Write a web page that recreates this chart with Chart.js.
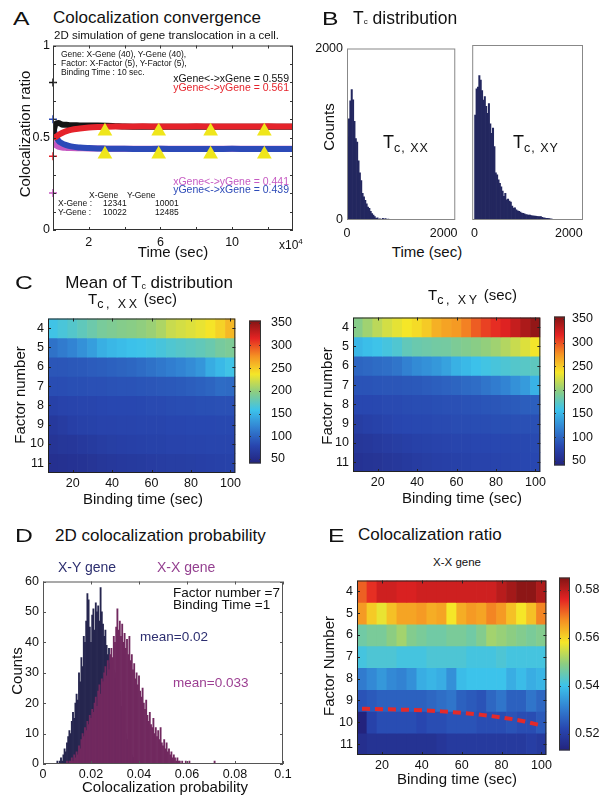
<!DOCTYPE html>
<html>
<head>
<meta charset="utf-8">
<script src="https://cdn.jsdelivr.net/npm/chart.js@4.4.0/dist/chart.umd.min.js"></script>
<style>
  body { margin: 0; background: #fff; }
  #fig { position: relative; width: 602px; height: 798px; overflow: hidden; font-family: "Liberation Sans", Arial, sans-serif; color: #111; }
  #fig canvas { position: absolute; }
  .t { position: absolute; white-space: nowrap; }
  .sub { position: relative; }
</style>
</head>
<body>
<div id="fig"></div>
<script>
// ---------- Panel A: colocalization convergence ----------
const convTime = [0, 0.15, 0.3, 0.5, 0.75, 1, 1.5, 2, 2.5, 3, 3.5, 4, 5, 6, 7, 8, 9, 10, 11, 12, 13, 13.4];
const ratioXX = [0.52, 0.575, 0.58, 0.572, 0.57, 0.568, 0.567, 0.566, 0.566, 0.565, 0.563, 0.561, 0.560, 0.560, 0.559, 0.559, 0.560, 0.559, 0.559, 0.559, 0.559, 0.559];
const ratioYY = [0.50, 0.505, 0.515, 0.526, 0.536, 0.543, 0.550, 0.555, 0.558, 0.560, 0.561, 0.561, 0.562, 0.561, 0.561, 0.562, 0.561, 0.561, 0.561, 0.562, 0.561, 0.561];
const ratioXY = [0.47, 0.46, 0.452, 0.447, 0.445, 0.444, 0.443, 0.442, 0.442, 0.441, 0.441, 0.441, 0.441, 0.441, 0.441, 0.441, 0.441, 0.441, 0.441, 0.441, 0.441, 0.441];
const ratioYX = [0.56, 0.51, 0.485, 0.47, 0.46, 0.453, 0.447, 0.444, 0.442, 0.441, 0.440, 0.440, 0.439, 0.440, 0.439, 0.439, 0.439, 0.440, 0.439, 0.439, 0.439, 0.439];
const startRatios = [0.8, 0.6, 0.4, 0.2];
const markTimes = [2.9, 5.9, 8.8, 11.8];
const markHigh = [0.535, 0.535, 0.535, 0.535];
const markLow = [0.41, 0.41, 0.41, 0.41];
const convXTicks = [2, 4, 6, 8, 10, 12];
const convXLabels = [2, 6, 10];
const convYTicks = [0, 0.1, 0.2, 0.3, 0.4, 0.5, 0.6, 0.7, 0.8, 0.9, 1];
const convYLabels = [0, 0.5, 1];

// ---------- Panel B: Tc histograms ----------
const tcBinXX = 28;
const tcBinXY = 29;
const tcCountsXX = [970, 1180, 1390, 1520, 1400, 1150, 950, 910, 690, 550, 460, 310, 270, 230, 190, 150, 135, 100, 76, 57,
  40, 19, 25, 10, 15, 8, 20, 12, 18, 6, 10, 4, 8, 3, 5, 0, 4, 2, 0, 0, 3, 0, 0, 5, 0, 0, 0, 0, 0, 0, 4, 0];
const tcCountsXY = [1200, 1500, 1520, 1650, 1600, 1480, 1370, 1410, 1300, 1220, 1330, 1100, 990, 1050, 840, 540, 515, 460, 420, 380,
  330, 270, 305, 230, 240, 215, 205, 160, 135, 140, 115, 105, 100, 90, 80, 76, 70, 62, 60, 55,
  57, 50, 48, 45, 45, 42, 40, 38, 38, 30, 25, 22, 20, 19, 15, 12, 11, 8, 5, 0,
  0, 0, 0, 5, 0, 0, 0, 5, 0, 0, 0, 5, 0, 0, 5];
const tcTicks = [0, 2000];
const tcCountTicks = [0, 2000];

// ---------- Panels C and E: heat maps ----------
const bindTimes = [10, 15, 20, 25, 30, 35, 40, 45, 50, 55, 60, 65, 70, 75, 80, 85, 90, 95, 100];
const factorRows = [4, 5, 6, 7, 8, 9, 10, 11];
const bindTicks = [20, 40, 60, 80, 100];
const tcMeanXX = [
  [160, 165, 170, 176, 182, 188, 191, 194, 196, 199, 203, 210, 220, 224, 228, 232, 238, 246, 258],
  [108, 114, 120, 128, 136, 146, 151, 154, 157, 159, 161, 164, 168, 171, 174, 177, 181, 187, 190],
  [90, 90, 91, 92, 94, 95, 97, 99, 101, 104, 108, 112, 116, 120, 125, 131, 144, 152, 160],
  [84, 84, 85, 85, 86, 86, 87, 88, 88, 89, 90, 91, 92, 93, 95, 97, 100, 104, 103],
  [74, 76, 77, 78, 78, 79, 80, 80, 80, 81, 82, 82, 83, 84, 84, 85, 85, 86, 86],
  [65, 68, 72, 74, 75, 76, 76, 77, 77, 78, 78, 78, 79, 79, 80, 80, 80, 81, 81],
  [60, 62, 63, 65, 67, 69, 71, 72, 73, 74, 75, 75, 76, 76, 77, 77, 78, 78, 78],
  [55, 56, 57, 58, 60, 62, 64, 65, 66, 67, 68, 69, 70, 70, 71, 72, 73, 74, 75]
];
const tcMeanXY = [
  [195, 205, 215, 224, 231, 237, 242, 250, 262, 268, 272, 282, 295, 305, 312, 318, 328, 338, 348],
  [150, 155, 159, 163, 168, 177, 181, 183, 185, 186, 190, 193, 196, 200, 205, 212, 220, 228, 236],
  [100, 102, 104, 106, 110, 118, 124, 128, 132, 138, 147, 152, 157, 161, 164, 167, 170, 172, 175],
  [88, 88, 89, 90, 90, 91, 92, 94, 96, 98, 100, 103, 105, 110, 115, 120, 128, 134, 148],
  [80, 80, 81, 82, 82, 83, 84, 84, 85, 86, 86, 87, 88, 89, 90, 92, 93, 95, 96],
  [70, 73, 75, 77, 79, 80, 81, 81, 82, 82, 83, 83, 84, 84, 85, 85, 86, 86, 86],
  [62, 64, 66, 68, 70, 72, 74, 75, 76, 77, 78, 78, 79, 79, 80, 80, 81, 81, 82],
  [57, 59, 60, 62, 64, 66, 68, 70, 72, 73, 74, 75, 76, 76, 77, 78, 79, 80, 80]
];
const tcClim = [40, 355];
const tcBarTicks = [50, 100, 150, 200, 250, 300, 350];
const colocXX = [
  [0.571, 0.575, 0.578, 0.578, 0.577, 0.577, 0.578, 0.578, 0.578, 0.578, 0.578, 0.578, 0.578, 0.578, 0.580, 0.582, 0.584, 0.584, 0.581],
  [0.566, 0.561, 0.557, 0.562, 0.565, 0.565, 0.566, 0.564, 0.565, 0.558, 0.564, 0.566, 0.565, 0.568, 0.566, 0.562, 0.558, 0.562, 0.568],
  [0.546, 0.547, 0.547, 0.549, 0.551, 0.548, 0.547, 0.546, 0.546, 0.547, 0.547, 0.546, 0.548, 0.551, 0.550, 0.549, 0.548, 0.547, 0.548],
  [0.541, 0.542, 0.542, 0.542, 0.541, 0.541, 0.541, 0.542, 0.542, 0.542, 0.542, 0.541, 0.541, 0.541, 0.542, 0.541, 0.541, 0.541, 0.541],
  [0.530, 0.532, 0.534, 0.532, 0.531, 0.533, 0.537, 0.538, 0.537, 0.533, 0.539, 0.540, 0.540, 0.540, 0.540, 0.537, 0.539, 0.537, 0.538],
  [0.524, 0.525, 0.526, 0.526, 0.526, 0.526, 0.526, 0.527, 0.528, 0.529, 0.526, 0.525, 0.524, 0.527, 0.529, 0.526, 0.526, 0.529, 0.527],
  [0.513, 0.521, 0.523, 0.523, 0.523, 0.523, 0.522, 0.523, 0.523, 0.524, 0.524, 0.524, 0.523, 0.523, 0.523, 0.524, 0.523, 0.523, 0.525],
  [0.516, 0.517, 0.517, 0.517, 0.517, 0.517, 0.517, 0.517, 0.518, 0.519, 0.519, 0.519, 0.519, 0.519, 0.519, 0.519, 0.519, 0.520, 0.519]
];
const colocClim = [0.513, 0.585];
const colocBarTicks = [0.52, 0.54, 0.56, 0.58];
const dashTimes = [10, 20, 30, 40, 50, 60, 70, 80, 90, 100];
const dashFactor = [9.38, 9.40, 9.42, 9.45, 9.50, 9.57, 9.66, 9.78, 9.93, 10.15];

// ---------- Panel D: colocalization probability ----------
const probBin = 0.0005;
const probStartXY = 0.006;
const probStartXX = 0.010;
const probCountsXY = [1, 0, 1, 2, 1, 3, 5, 4, 7, 9, 11, 10, 14, 17, 15, 20, 23, 21, 30, 27,
  35, 32, 42, 40, 47, 56, 54, 45, 40, 49, 51, 44, 53, 50, 52, 47, 58, 50, 46, 42,
  44, 39, 36, 38, 33, 30, 34, 31, 28, 30, 25, 22, 24, 19, 16, 14, 12, 10, 8, 6,
  5, 4, 3, 2, 2, 1, 1, 0, 1];
const probCountsXX = [1, 0, 1, 1, 2, 1, 3, 2, 4, 3, 6, 5, 8, 10, 9, 12, 11, 14, 13, 16,
  15, 18, 17, 20, 22, 19, 24, 26, 23, 28, 27, 30, 32, 29, 34, 31, 36, 38, 35, 42,
  40, 45, 51, 44, 47, 42, 46, 40, 43, 38, 41, 36, 42, 34, 36, 31, 33, 28, 30, 26,
  29, 24, 22, 25, 20, 18, 21, 16, 14, 17, 13, 12, 15, 10, 12, 9, 11, 8, 12, 7,
  6, 8, 5, 7, 4, 5, 3, 4, 2, 3, 2, 1, 2, 1, 1, 0, 1, 0, 0, 1,
  0, 0, 1, 0, 0, 0, 0, 0, 0, 0, 0, 0, 0, 0, 0, 0, 0, 0, 0, 0,
  0, 0, 0, 1];
const probTicks = [0, 0.02, 0.04, 0.06, 0.08, 0.1];
const probCountTicks = [0, 10, 20, 30, 40, 50, 60];

// ---------- colour map (jet-like, as printed) ----------
const cmapStops = [[0, [35, 35, 125]], [0.125, [40, 70, 175]], [0.25, [50, 130, 210]], [0.375, [60, 195, 235]],
  [0.5, [140, 205, 130]], [0.625, [245, 230, 40]], [0.75, [245, 145, 35]], [0.875, [228, 35, 35]], [1, [130, 20, 20]]];

function cmap(t) {
  t = Math.max(0, Math.min(1, t));
  for (let i = 1; i < cmapStops.length; i++) {
    const [t1, c1] = cmapStops[i];
    if (t <= t1) {
      const [t0, c0] = cmapStops[i - 1];
      const f = (t - t0) / (t1 - t0);
      return 'rgb(' + c0.map((v, k) => Math.round(v + (c1[k] - v) * f)).join(',') + ')';
    }
  }
  return 'rgb(130,20,20)';
}

function barGradient(chart) {
  const a = chart.chartArea;
  if (!a) return cmap(0.5);
  const g = chart.ctx.createLinearGradient(0, a.bottom, 0, a.top);
  cmapStops.forEach(([t, c]) => g.addColorStop(t, 'rgb(' + c.join(',') + ')'));
  return g;
}

// box with inward ticks, drawn over the data
const framePlugin = {
  id: 'frame',
  afterDatasetsDraw(chart, args, o) {
    if (!o || !o.color) return;
    const { ctx, chartArea: a, scales } = chart;
    ctx.save();
    ctx.strokeStyle = o.color;
    ctx.lineWidth = 1;
    ctx.strokeRect(a.left + 0.5, a.top + 0.5, a.width - 1, a.height - 1);
    const len = o.tick || 0;
    ctx.beginPath();
    if (len && o.x !== false) {
      for (const t of scales.x.ticks) {
        const p = Math.round(scales.x.getPixelForValue(t.value)) + 0.5;
        ctx.moveTo(p, a.bottom); ctx.lineTo(p, a.bottom - len);
        ctx.moveTo(p, a.top); ctx.lineTo(p, a.top + len);
      }
    }
    if (len && o.y !== false) {
      for (const t of scales.y.ticks) {
        const p = Math.round(scales.y.getPixelForValue(t.value)) + 0.5;
        ctx.moveTo(a.left, p); ctx.lineTo(a.left + len, p);
        ctx.moveTo(a.right, p); ctx.lineTo(a.right - len, p);
      }
    }
    ctx.stroke();
    ctx.restore();
  }
};
Chart.register(framePlugin);
Chart.defaults.font.family = '"Liberation Sans", Arial, sans-serif';
Chart.defaults.font.size = 12.5;
Chart.defaults.color = '#111';

const fig = document.getElementById('fig');

function canvasAt(box, m) {
  const c = document.createElement('canvas');
  c.width = box.w + m.l + m.r;
  c.height = box.h + m.t + m.b;
  c.style.left = (box.x - m.l) + 'px';
  c.style.top = (box.y - m.t) + 'px';
  c.style.width = c.width + 'px';
  c.style.height = c.height + 'px';
  fig.appendChild(c);
  return c;
}

function baseOptions(pad, frame, scales) {
  return {
    responsive: false, animation: false, devicePixelRatio: 1, events: [],
    layout: { padding: pad, autoPadding: false },
    plugins: { legend: { display: false }, tooltip: { enabled: false }, frame: frame },
    scales: scales
  };
}
// usual layout: y axis on the left fills m.l, x axis below fills m.b
const padLB = m => ({ left: 0, right: m.r, top: m.t, bottom: 0 });

// each scale gets exactly the room of its canvas margin
function axis(o, size) {
  return Object.assign({ grid: { display: false, drawTicks: false }, border: { display: false },
    afterFit: s => { if (s.isHorizontal()) s.height = size; else s.width = size; } }, o);
}
function fixTicks(list) { return s => { s.ticks = list.map(v => ({ value: v })); }; }
const pts = (xs, ys) => xs.map((x, i) => ({ x: x, y: ys[i] }));
const lineSet = (ys, color) => ({ data: pts(convTime, ys), showLine: true, borderColor: color, borderWidth: 6,
  pointRadius: 0, cubicInterpolationMode: 'monotone' });

// ---------- A ----------
const boxA = { x: 53, y: 43, w: 240, h: 187 }, mA = { l: 45, r: 8, t: 8, b: 22 };
new Chart(canvasAt(boxA, mA), {
  type: 'scatter',
  data: { datasets: [
    { data: startRatios.map(v => ({ x: 0, y: v })), pointStyle: 'cross', pointRadius: 4, borderWidth: 1.5,
      borderColor: ['#141414', '#2c4ab8', '#e5232b', '#c65ac2'], clip: false },
    { data: pts(markTimes, markHigh), pointStyle: 'triangle', pointRadius: 8.5, backgroundColor: '#efe61b', borderWidth: 0 },
    { data: pts(markTimes, markLow), pointStyle: 'triangle', pointRadius: 8.5, backgroundColor: '#efe61b', borderWidth: 0 },
    lineSet(ratioYY, '#e5232b'),
    lineSet(ratioXX, '#141414'),
    lineSet(ratioYX, '#2c4ab8'),
    lineSet(ratioXY, '#c65ac2')
  ] },
  options: baseOptions(padLB(mA), { color: '#333', tick: 3 }, {
    x: axis({ type: 'linear', min: 0, max: 13.4, afterBuildTicks: fixTicks(convXTicks),
      ticks: { autoSkip: false, maxRotation: 0, padding: 5, callback: v => convXLabels.includes(v) ? String(v) : '' } }, mA.b),
    y: axis({ type: 'linear', min: 0, max: 1, afterBuildTicks: fixTicks(convYTicks),
      ticks: { autoSkip: false, padding: 3, callback: v => convYLabels.includes(v) ? String(v) : '' } }, mA.l)
  })
});

// ---------- B ----------
function tcHist(box, m, counts, bin, xmin, xmax, showY) {
  new Chart(canvasAt(box, m), {
    type: 'bar',
    data: { datasets: [{ data: counts.map((c, i) => ({ x: (i + 0.5) * bin, y: c })), backgroundColor: '#23275f',
      barPercentage: 1, categoryPercentage: 1, borderWidth: 0 }] },
    options: baseOptions(padLB(m), { color: '#888' }, {
      x: axis({ type: 'linear', offset: false, min: xmin, max: xmax, afterBuildTicks: fixTicks(tcTicks),
        ticks: { autoSkip: false, maxRotation: 0, padding: 6, callback: v => String(v) } }, m.b),
      y: axis({ type: 'linear', min: 0, max: 2000, afterBuildTicks: fixTicks(tcCountTicks),
        ticks: { display: showY, autoSkip: false, padding: 4, callback: v => String(v) } }, m.l)
    })
  });
}
tcHist({ x: 347, y: 45, w: 113, h: 175 }, { l: 40, r: 4, t: 8, b: 20 }, tcCountsXX, tcBinXX, 0, 2240, true);
tcHist({ x: 469, y: 45, w: 114, h: 175 }, { l: 4, r: 15, t: 8, b: 20 }, tcCountsXY, tcBinXY, -50, 2300, false);

// ---------- heat maps ----------
function heatMap(box, m, values, clim, extra) {
  const rows = factorRows.map((r, i) => ({
    type: 'bar',
    data: bindTimes.map(t => ({ x: t, y: [r - 0.5, r + 0.5] })),
    backgroundColor: values[i].map(v => cmap((v - clim[0]) / (clim[1] - clim[0]))),
    grouped: false, barPercentage: 1, categoryPercentage: 1, borderWidth: 0
  }));
  new Chart(canvasAt(box, m), {
    type: 'bar',
    data: { datasets: (extra || []).concat(rows) },
    options: baseOptions(padLB(m), { color: '#222', tick: 3 }, {
      x: axis({ type: 'linear', offset: false, min: 7.5, max: 102.5, afterBuildTicks: fixTicks(bindTicks),
        ticks: { autoSkip: false, maxRotation: 0, padding: 3, callback: v => String(v) } }, m.b),
      y: axis({ type: 'linear', reverse: true, min: 3.5, max: 11.5, afterBuildTicks: fixTicks(factorRows),
        ticks: { autoSkip: false, padding: 4, callback: v => String(v) } }, m.l)
    })
  });
}
function colorBar(box, m, clim, ticks, fmt, pad) {
  new Chart(canvasAt(box, m), {
    type: 'bar',
    data: { labels: [''], datasets: [{ data: [clim], backgroundColor: c => barGradient(c.chart),
      barPercentage: 1, categoryPercentage: 1, borderWidth: 0 }] },
    options: baseOptions({ left: m.l, right: 0, top: m.t, bottom: m.b }, { color: '#333', tick: 2, x: false }, {
      x: { display: false },
      y: axis({ type: 'linear', position: 'right', min: clim[0], max: clim[1], afterBuildTicks: fixTicks(ticks),
        ticks: { autoSkip: false, padding: pad, callback: fmt } }, m.r)
    })
  });
}

heatMap({ x: 48, y: 311, w: 190, h: 162 }, { l: 30, r: 6, t: 4, b: 22 }, tcMeanXX, tcClim);
colorBar({ x: 249, y: 311, w: 12, h: 162 }, { l: 2, r: 36, t: 8, b: 8 }, tcClim, tcBarTicks, v => String(v), 10);
heatMap({ x: 353, y: 310, w: 190, h: 162 }, { l: 30, r: 6, t: 4, b: 22 }, tcMeanXY, tcClim);
colorBar({ x: 554, y: 310, w: 11, h: 162 }, { l: 2, r: 36, t: 8, b: 8 }, tcClim, tcBarTicks, v => String(v), 7);

heatMap({ x: 357, y: 573, w: 192, h: 182 }, { l: 30, r: 6, t: 4, b: 22 }, colocXX, colocClim, [
  { type: 'line', data: pts(dashTimes, dashFactor), borderColor: '#e42a2a', borderWidth: 4, borderDash: [8, 5],
    pointRadius: 0, cubicInterpolationMode: 'monotone' }
]);
colorBar({ x: 559, y: 573, w: 11, h: 182 }, { l: 2, r: 31, t: 8, b: 8 }, colocClim, colocBarTicks, v => v.toFixed(2), 5);

// ---------- D ----------
const probX = (start, n) => Array.from({ length: n }, (_, i) => +(start + i * probBin).toFixed(4));
const boxD = { x: 43, y: 578, w: 240, h: 186 }, mD = { l: 35, r: 15, t: 8, b: 22 };
new Chart(canvasAt(boxD, mD), {
  type: 'bar',
  data: { datasets: [
    { data: pts(probX(probStartXX, probCountsXX.length), probCountsXX), backgroundColor: '#71295f',
      grouped: false, barPercentage: 1, categoryPercentage: 1, borderWidth: 0 },
    { data: pts(probX(probStartXY, probCountsXY.length), probCountsXY), backgroundColor: '#26264f',
      grouped: false, barPercentage: 1, categoryPercentage: 1, borderWidth: 0 }
  ] },
  options: baseOptions(padLB(mD), { color: '#555', tick: 3 }, {
    x: axis({ type: 'linear', offset: false, min: 0, max: 0.1, afterBuildTicks: fixTicks(probTicks),
      ticks: { autoSkip: false, maxRotation: 0, padding: 3, callback: v => String(v) } }, mD.b),
    y: axis({ type: 'linear', min: 0, max: 60, afterBuildTicks: fixTicks(probCountTicks),
      ticks: { autoSkip: false, padding: 4, callback: v => String(v) } }, mD.l)
  })
});

// ---------- text ----------
function txt(html, x, base, size, o) {
  o = o || {};
  const d = document.createElement('div');
  d.className = 't';
  d.innerHTML = html;
  d.style.fontSize = size + 'px';
  d.style.lineHeight = size + 'px';
  d.style.top = (base - 0.8465 * size) + 'px';
  if (o.color) d.style.color = o.color;
  if (o.align === 'center') { d.style.left = x + 'px'; d.style.transform = 'translateX(-50%)'; }
  else if (o.align === 'right') d.style.right = (602 - x) + 'px';
  else d.style.left = x + 'px';
  if (o.sx) { d.style.transform = 'scaleX(' + o.sx + ')'; d.style.transformOrigin = 'left center'; }
  fig.appendChild(d);
}
function vtxt(html, cx, cy, size) {
  const d = document.createElement('div');
  d.className = 't';
  d.innerHTML = html;
  d.style.fontSize = size + 'px';
  d.style.lineHeight = size + 'px';
  d.style.left = cx + 'px';
  d.style.top = cy + 'px';
  d.style.transform = 'translate(-50%, -50%) rotate(-90deg)';
  fig.appendChild(d);
}
const sub = (s, size, dy, ls) => '<span class="sub" style="font-size:' + size + 'px;top:' + dy + 'px;letter-spacing:' + (ls || 0) + 'px">' + s + '</span>';

// A
txt('A', 13, 25, 19, { sx: 1.3 });
txt('Colocalization convergence', 53, 23, 17);
txt('2D simulation of gene translocation in a cell.', 54, 40, 11.5);
txt('Gene: X-Gene (40), Y-Gene (40),', 61, 57, 8.5);
txt('Factor: X-Factor (5), Y-Factor (5),', 61, 66, 8.5);
txt('Binding Time : 10 sec.', 61, 75, 8.5);
txt('xGene&lt;-&gt;xGene = 0.559', 289, 82, 10.5, { align: 'right' });
txt('yGene&lt;-&gt;yGene = 0.561', 289, 91, 10.5, { align: 'right', color: '#e5232b' });
txt('xGene&lt;-&gt;yGene = 0.441', 289, 185, 10.5, { align: 'right', color: '#c65ac2' });
txt('yGene&lt;-&gt;xGene = 0.439', 289, 193, 10.5, { align: 'right', color: '#2c4ab8' });
txt('X-Gene', 89, 198, 8.5);
txt('Y-Gene', 127, 198, 8.5);
txt('X-Gene :', 58, 206, 8.5);
txt('12341', 103, 206, 8.5);
txt('10001', 155, 206, 8.5);
txt('Y-Gene :', 58, 215, 8.5);
txt('10022', 103, 215, 8.5);
txt('12485', 155, 215, 8.5);
vtxt('Colocalization ratio', 24, 134, 15);
txt('Time (sec)', 173, 257, 15, { align: 'center' });
txt('x10' + sub('4', 8, -5), 279, 249, 12);

// B
txt('B', 322, 25, 19, { sx: 1.3 });
txt('T' + sub('c', 8, 0) + ' distribution', 353, 25, 17.5);
vtxt('Counts', 328, 127, 15);
txt('T' + sub('c, XX', 12.5, 4, 1), 383, 148, 18);
txt('T' + sub('c, XY', 12.5, 4, 1), 513, 148, 18);
txt('Time (sec)', 427, 257, 15, { align: 'center' });

// C
txt('C', 15, 289, 19, { sx: 1.3 });
txt('Mean of T' + sub('c', 9, 1) + ' distribution', 149, 288, 17, { align: 'center' });
txt('T' + sub('c, XX', 12.5, 4, 2.5) + ' (sec)', 88, 304, 15);
txt('T' + sub('c, XY', 12.5, 4, 2.5) + ' (sec)', 428, 300, 15);
vtxt('Factor number', 19, 395, 15);
vtxt('Factor number', 326, 396, 15);
txt('Binding time (sec)', 143, 504, 15, { align: 'center' });
txt('Binding time (sec)', 462, 503, 15, { align: 'center' });

// D
txt('D', 15, 542, 19, { sx: 1.3 });
txt('2D colocalization probability', 55, 541, 17);
txt('X-Y gene', 58, 572, 14, { color: '#2d2f70' });
txt('X-X gene', 157, 572, 14, { color: '#944090' });
txt('Factor number =7', 173, 597, 13.5);
txt('Binding Time =1', 173, 609, 13.5);
txt('mean=0.02', 140, 641, 13.5, { color: '#2d2f70' });
txt('mean=0.033', 173, 687, 13.5, { color: '#9c3f92' });
vtxt('Counts', 16, 671, 15);
txt('Colocalization probability', 165, 792, 15, { align: 'center' });

// E
txt('E', 328, 542, 19, { sx: 1.3 });
txt('Colocalization ratio', 358, 540, 17);
txt('X-X gene', 457, 567, 11.5, { align: 'center' });
vtxt('Factor Number', 328, 666, 15);
txt('Binding time (sec)', 457, 784, 15, { align: 'center' });
</script>
</body>
</html>
